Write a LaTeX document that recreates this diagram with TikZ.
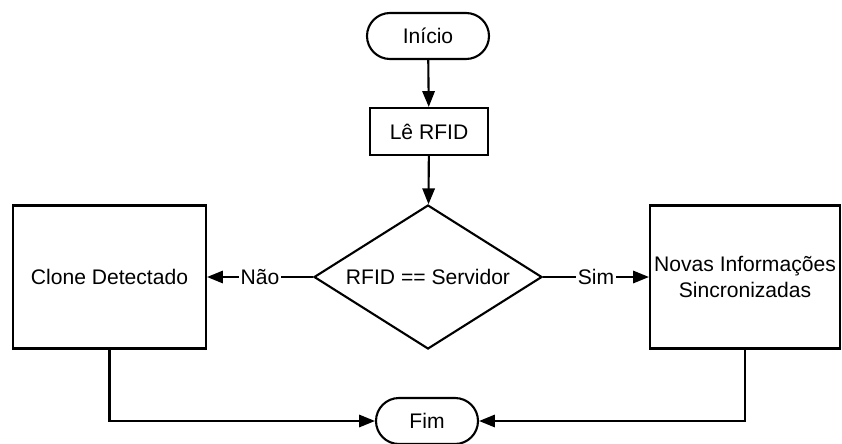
\documentclass[tikz,border=0pt]{standalone}
\usepackage{fontspec}
\setmainfont{Liberation Sans}
\usetikzlibrary{arrows.meta,shapes.geometric,shapes.misc}

\begin{document}
\begin{tikzpicture}[
    font=\fontsize{12}{15}\selectfont,
    line width=1.2pt,
    >={Triangle[length=9pt,width=7pt]},
    term/.style={draw, rounded rectangle, minimum width=2.44cm, minimum height=0.92cm, inner sep=0pt},
    proc/.style={draw, rectangle, align=center, inner sep=0pt},
    decide/.style={draw, diamond, aspect=1.58, minimum width=4.56cm, minimum height=2.88cm, inner sep=0pt},
    lbl/.style={fill=white, inner sep=1pt}
  ]
    \useasboundingbox (0,0) rectangle (16.84,-8.86);
    \node[term] (start) at (8.56,-0.72) {Início};
    \node[proc, minimum width=2.36cm, minimum height=0.94cm] (read) at (8.58,-2.63) {Lê RFID};
    \node[decide] (check) at (8.56,-5.54) {RFID == Servidor};
    \node[proc, minimum width=3.86cm, minimum height=2.86cm] (clone) at (2.19,-5.54) {Clone Detectado};
    \node[proc, minimum width=3.8cm, minimum height=2.86cm] (sync) at (14.9,-5.54) {Novas Informações\\Sincronizadas};
    \node[term, minimum width=2.04cm] (stop) at (8.54,-8.42) {Fim};
    \draw[->] (start) -- (read);
    \draw[->] (read) -- (check);
    \draw[->] (check) -- node[lbl] {Não} (clone);
    \draw[->] (check) -- node[lbl] {Sim} (sync);
    \draw[->] (clone) |- (stop);
    \draw[->] (sync) |- (stop);
\end{tikzpicture}
\end{document}
